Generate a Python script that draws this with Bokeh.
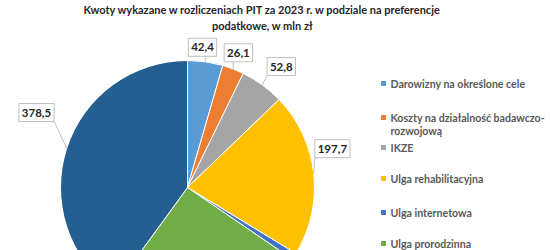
import math
import numpy as np
from bokeh.plotting import figure
from bokeh.models import Range1d
from bokeh.core.properties import value
from bokeh.embed import file_html
from bokeh.resources import INLINE

# ---------------- data ----------------
title_lines = ["Kwoty wykazane w rozliczeniach PIT za 2023 r. w podziale na preferencje",
               "podatkowe, w mln zł"]
categories = ["Darowizny na określone cele", "Koszty na działalność badawczo-rozwojową",
              "IKZE", "Ulga rehabilitacyjna", "Ulga internetowa", "Ulga prorodzinna",
              "Ulga termomodernizacyjna"]
values = [42.4, 26.1, 52.8, 197.7, 8.0, 241.0, 378.5]
label_texts = ["42,4", "26,1", "52,8", "197,7", "8,0", "241,0", "378,5"]
legend_lines = [["Darowizny na określone cele"],
                ["Koszty na działalność badawczo-", "rozwojową"],
                [" IKZE"],
                ["Ulga rehabilitacyjna"],
                ["Ulga internetowa"],
                ["Ulga prorodzinna"]]

# ---------------- styles / layout ----------------
colors = ["#5B9BD5", "#ED7D31", "#A5A5A5", "#FFC000", "#4472C4", "#70AD47", "#255E91"]
W, H = 550, 250
CX, CY, R = 187, 187, 127          # pie centre/radius in page pixels
# label placement (polar around the centre: degrees clockwise from top, distance)
label_place = {0: (6.1, 141), 1: (20.7, 144), 2: (37.8, 153), 3: (75.0, 150), 6: (296.4, 168.6)}
legend_x = 383
legend_rows = [83, 117, 147, 178, 212, 243]
FONT = value("Lato")


def Y(py):
    return H - py


p = figure(width=W, height=H, x_range=Range1d(0, W), y_range=Range1d(0, H),
           output_backend="svg", toolbar_location=None, min_border=0,
           x_axis_location=None, y_axis_location=None)
p.grid.visible = False
p.outline_line_color = None
p.background_fill_color = "white"
p.border_fill_color = "white"

# ---------------- pie ----------------
vals = np.array(values, dtype=float)
total = vals.sum()
cum_end = np.cumsum(vals)
cum_start = cum_end - vals
starts = math.pi / 2 - 2 * math.pi * cum_start / total
ends = math.pi / 2 - 2 * math.pi * cum_end / total
p.wedge(x=[CX] * len(vals), y=[Y(CY)] * len(vals), radius=R,
        start_angle=list(starts), end_angle=list(ends), direction="clock",
        fill_color=colors, line_color="white", line_width=1)

# ---------------- data labels ----------------
mids = 2 * math.pi * (cum_start + vals / 2) / total
for i, (ang, dist) in label_place.items():
    th = mids[i]
    ex, ey = CX + R * math.sin(th), CY - R * math.cos(th)
    a = math.radians(ang)
    lx, ly = CX + dist * math.sin(a), CY - dist * math.cos(a)
    txt = label_texts[i]
    nd = sum(c.isdigit() for c in txt)
    bw, bh = 6.8 * nd + 8, 18
    # leader line
    qx = min(max(ex, lx - bw / 2), lx + bw / 2)
    qy = min(max(ey, ly - bh / 2), ly + bh / 2)
    if math.hypot(ex - qx, ey - qy) > 2:
        p.segment(x0=[ex], y0=[Y(ey)], x1=[qx], y1=[Y(qy)], line_color="#BFBFBF", line_width=1)
    p.rect(x=[lx], y=[Y(ly)], width=bw, height=bh, fill_color="white",
           line_color="#BFBFBF", line_width=1)
    p.text(x=[lx], y=[Y(ly)], text=[txt], text_font=FONT, text_font_style="bold",
           text_font_size="11.5px", text_color="#262626", text_align="center",
           text_baseline="middle")

# ---------------- title ----------------
p.text(x=[262, 262], y=[Y(9), Y(25)], text=title_lines, text_font=FONT,
       text_font_style="bold", text_font_size="11px", text_color="#262626",
       text_align="center", text_baseline="middle")

# ---------------- legend ----------------
for k, lines in enumerate(legend_lines):
    yy = legend_rows[k]
    p.scatter(x=[legend_x], y=[Y(yy)], marker="square", size=5,
              fill_color=colors[k], line_color=None)
    p.text(x=[legend_x + 7] * len(lines), y=[Y(yy + 13.5 * j) for j in range(len(lines))],
           text=lines, text_font=FONT, text_font_style="bold", text_font_size="10.6px",
           text_color="#595959", text_align="left", text_baseline="middle")

open("out.html", "w").write(file_html(p, INLINE))
